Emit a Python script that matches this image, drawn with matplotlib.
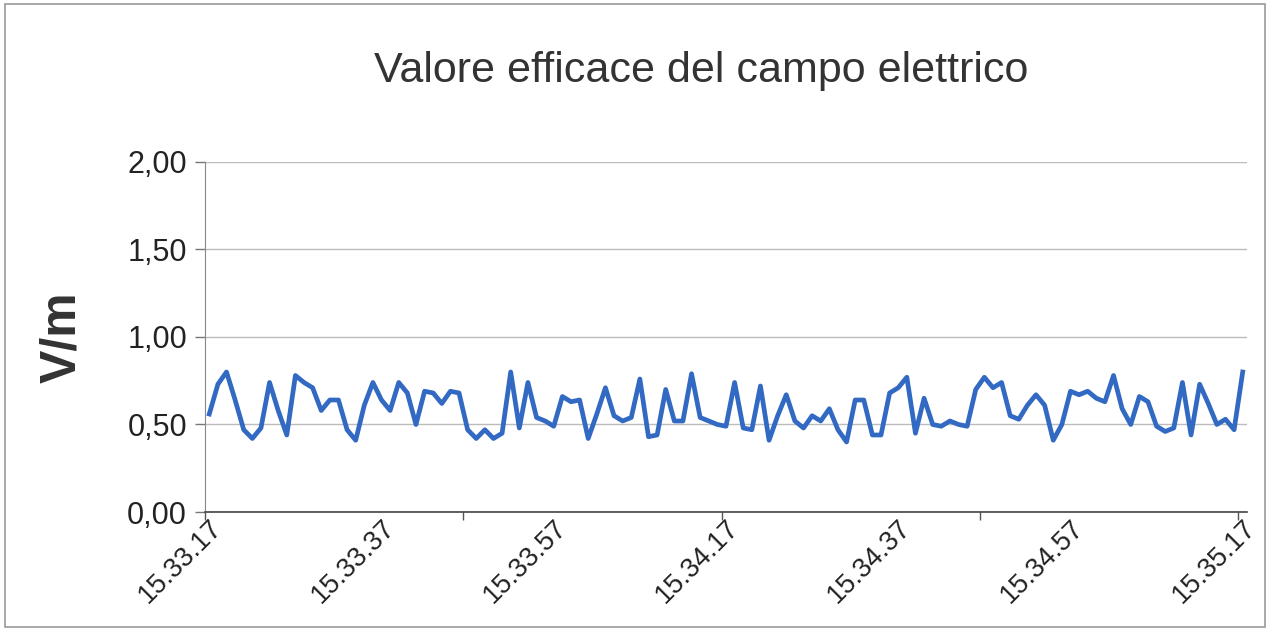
import numpy as np
import matplotlib
matplotlib.use("Agg")
import matplotlib.pyplot as plt
from matplotlib.patches import Rectangle

# ---- data (one sample per second, 15.33.17 -> 15.35.17) ----
values = [
    0.56, 0.73, 0.80, 0.64, 0.47, 0.42, 0.48, 0.74, 0.58, 0.44,
    0.78, 0.74, 0.71, 0.58, 0.64, 0.64, 0.47, 0.41, 0.61, 0.74,
    0.64, 0.58, 0.74, 0.68, 0.50, 0.69, 0.68, 0.62, 0.69, 0.68,
    0.47, 0.42, 0.47, 0.42, 0.45, 0.80, 0.48, 0.74, 0.54, 0.52,
    0.49, 0.66, 0.63, 0.64, 0.42, 0.56, 0.71, 0.55, 0.52, 0.54,
    0.76, 0.43, 0.44, 0.70, 0.52, 0.52, 0.79, 0.54, 0.52, 0.50,
    0.49, 0.74, 0.48, 0.47, 0.72, 0.41, 0.55, 0.67, 0.52, 0.48,
    0.55, 0.52, 0.59, 0.47, 0.40, 0.64, 0.64, 0.44, 0.44, 0.68,
    0.71, 0.77, 0.45, 0.65, 0.50, 0.49, 0.52, 0.50, 0.49, 0.70,
    0.77, 0.71, 0.74, 0.55, 0.53, 0.61, 0.67, 0.61, 0.41, 0.50,
    0.69, 0.67, 0.69, 0.65, 0.63, 0.78, 0.59, 0.50, 0.66, 0.63,
    0.49, 0.46, 0.48, 0.74, 0.44, 0.73, 0.62, 0.50, 0.53, 0.47,
    0.80,
]
tick_labels = ["15.33.17", "15.33.37", "15.33.57", "15.34.17",
               "15.34.37", "15.34.57", "15.35.17"]
y_ticks = [0.0, 0.5, 1.0, 1.5, 2.0]
y_tick_labels = ["0,00", "0,50", "1,00", "1,50", "2,00"]
title = "Valore efficace del campo elettrico"
ylabel = "V/m"

plt.rcParams['font.family'] = ['Liberation Sans', 'DejaVu Sans']

fig = plt.figure(figsize=(12.7, 6.3), dpi=100)
fig.patch.set_facecolor('white')
fig.patches.append(Rectangle((0.004, 0.004), 0.992, 0.99, transform=fig.transFigure,
                             fill=False, edgecolor='#9a9a9a', linewidth=1.2))

ax = fig.add_axes([0.1614, 0.1873, 0.8205, 0.5556])
n = len(values)
x = np.arange(n)
ax.plot(x, values, color='#3269c2', linewidth=3.4, solid_joinstyle='round', zorder=3)

ax.set_xlim(-0.5, n - 0.5)
ax.set_ylim(0, 2.0)

# grid
ax.set_yticks(y_ticks)
ax.set_yticklabels(y_tick_labels, fontsize=22, color='#222222')
ax.yaxis.grid(True, color='#bcbcbc', linewidth=1.0)
ax.set_axisbelow(True)

# x ticks: marks every 30 categories, labels every 20
ax.set_xticks(np.arange(-0.5, n, 30))
ax.set_xticklabels([])
ax.tick_params(axis='x', which='major', length=6, color='#555555', width=1)
label_pos = np.arange(0, n, 20)
ax.set_xticks(label_pos, minor=True)
ax.set_xticklabels(tick_labels, minor=True, rotation=45, ha='right', va='top',
                   rotation_mode='anchor', fontsize=19.5, color='#222222')
ax.tick_params(axis='x', which='minor', length=0, pad=2)
ax.tick_params(axis='y', length=7, color='#777777', width=1, pad=6)

for s in ['top', 'right']:
    ax.spines[s].set_visible(False)
ax.spines['left'].set_color('#888888')
ax.spines['bottom'].set_color('#444444')
ax.spines['bottom'].set_linewidth(1.2)

ax.set_ylabel(ylabel, fontsize=36, fontweight='bold', color='#333333', labelpad=30)
fig.text(0.552, 0.887, title, ha='center', va='center', fontsize=31, color='#333333')

fig.savefig('out.png', dpi=100, facecolor='white')
